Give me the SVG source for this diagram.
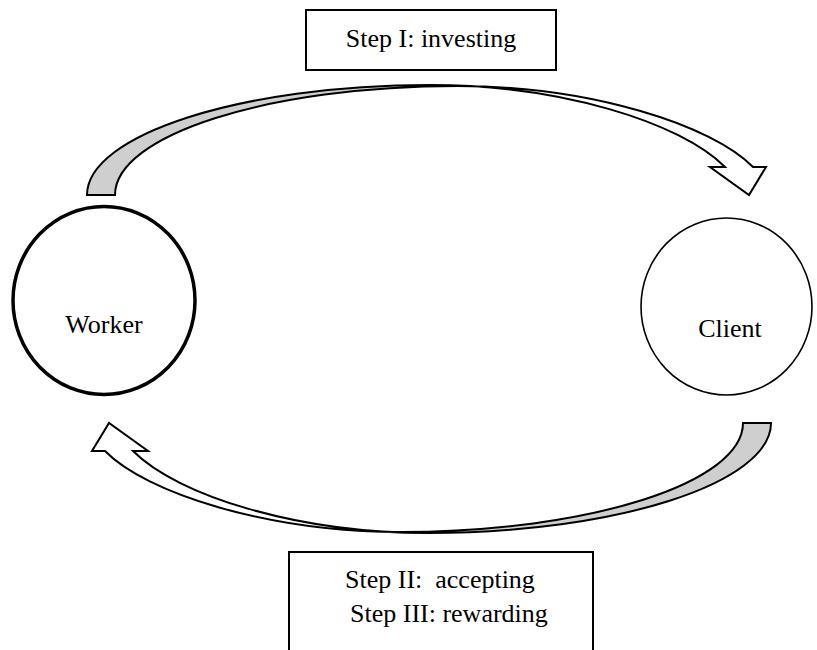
<svg xmlns="http://www.w3.org/2000/svg" xmlns:xlink="http://www.w3.org/1999/xlink" width="817" height="650" viewBox="0 0 817 650">
<style>
.lbl{font-family:"Liberation Serif","Times New Roman",serif;font-size:26px;fill:#000}
.box{fill:#fff;stroke:#000;stroke-width:2}
.fillw{fill:#fff;stroke:none}
.fillg{fill:#cfcfcf;stroke:none}
.edge{fill:none;stroke:#000;stroke-width:2;stroke-linejoin:miter}
</style>
<defs>
<path id="carrow" d="M87,195 C87,135 241,85 430,85 C560,85 680,122 725,167 L710,167 L749,195 L766,167 L753,167 C712,125 590,86 458,86 C269,86 115,135 115,195 Z"/>
<clipPath id="leftPart" clipPathUnits="userSpaceOnUse"><rect x="0" y="0" width="472" height="300"/></clipPath>
</defs>
<rect width="817" height="650" fill="#fff"/>
<g id="connectors">
<g id="arrow-investing">
<use xlink:href="#carrow" class="fillw"/>
<use xlink:href="#carrow" class="fillg" clip-path="url(#leftPart)"/>
<use xlink:href="#carrow" class="edge"/>
</g>
<g id="arrow-return" transform="rotate(180 429 309)">
<use xlink:href="#carrow" class="fillw"/>
<use xlink:href="#carrow" class="fillg" clip-path="url(#leftPart)"/>
<use xlink:href="#carrow" class="edge"/>
</g>
</g>
<g id="worker">
<ellipse cx="104" cy="300.5" rx="91" ry="94" fill="#fff" stroke="#000" stroke-width="3.5"/>
<text class="lbl" x="104" y="333" text-anchor="middle">Worker</text>
</g>
<g id="client">
<ellipse cx="726.5" cy="306.5" rx="85.5" ry="88.5" fill="#fff" stroke="#000" stroke-width="1.6"/>
<text class="lbl" x="730" y="337" text-anchor="middle">Client</text>
</g>
<g id="step1">
<rect class="box" x="306" y="10" width="250" height="60"/>
<text class="lbl" x="431" y="47" text-anchor="middle">Step I: investing</text>
</g>
<g id="step2">
<rect class="box" x="289" y="552" width="304" height="110"/>
<text class="lbl" x="345" y="588" xml:space="preserve">Step II:  accepting</text>
<text class="lbl" x="350" y="622">Step III: rewarding</text>
</g>
</svg>
